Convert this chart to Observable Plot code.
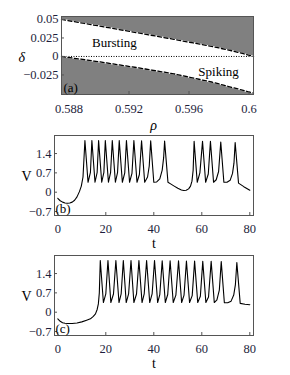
<!DOCTYPE html>
<html><head><meta charset="utf-8">
<script src="https://cdn.jsdelivr.net/npm/d3@7"></script>
<script src="https://cdn.jsdelivr.net/npm/@observablehq/plot@0.6"></script>
<style>
body{margin:0;background:#fff;}
#chart{position:relative;width:290px;height:375px;overflow:hidden;background:#fff;}
#chart svg{position:absolute;left:0;overflow:visible;}
#chart svg, #chart svg text{font-family:"Liberation Serif","Times New Roman",serif !important;}
</style></head><body><div id="chart"></div>
<script>
// ---------- panel (a) data ----------
const rho    = [0.5875, 0.5900, 0.5925, 0.5950, 0.5975, 0.5990, 0.6003];
const upper  = [0.0500, 0.0412, 0.0322, 0.0231, 0.0137, 0.0070, 0.0000];
const lower  = [0.0000, -0.0072, -0.0150, -0.0235, -0.0345, -0.0425, -0.0495];
const rhoDomain   = [0.5875, 0.6003];
const deltaDomain = [-0.0514, 0.054];
const rhoTicks = [0.588, 0.592, 0.596, 0.6];
const rhoTickLabels = ["0.588", "0.592", "0.596", "0.6"];
const deltaTicks = [0.05, 0.025, 0, -0.025];
const deltaTickLabels = ["0.05", "0.025", "0", "\u22120.025"];
const regionLabels = ["Bursting", "Spiking"];
const regionRho = [0.59103, 0.59797];
const regionDelta = [0.0179, -0.0212];

// ---------- panel (b) data ----------
const tB = [0,1,2,3,4,5,6,7,8,9,9.8,10.5,11.3,
  12.6,13.6,14.2, 15.5,16.4,17.0, 18.3,19.2,19.8, 21.1,22.0,22.7, 24.0,24.9,25.6,
  26.9,27.9,28.6, 29.9,30.9,31.7, 33.0,34.0,34.9, 36.2,37.4,38.1,38.7,
  40.0,41.2,42.5,43.5,44.1,44.5,
  45.9,47,48.5,50,51.5,52.5,53.5,54.5,55.3,55.9,56.4,56.8,
  58.1,59.2,60.3, 61.6,62.7,63.6, 64.9,66.0,67.0,67.9,
  69.2,70.5,71.8,72.8,73.4,73.9, 75.3,77.5,80];
const vB = [-0.22,-0.31,-0.36,-0.39,-0.40,-0.39,-0.36,-0.29,-0.17,0.02,0.22,0.55,1.87,
  0.36,0.72,1.87, 0.36,0.72,1.87, 0.36,0.72,1.87, 0.36,0.72,1.87, 0.36,0.72,1.87,
  0.36,0.70,1.87, 0.36,0.68,1.87, 0.36,0.64,1.86, 0.36,0.55,0.95,1.86,
  0.36,0.37,0.48,0.80,1.25,1.85,
  0.36,0.30,0.22,0.14,0.08,0.06,0.07,0.12,0.22,0.40,0.80,1.84,
  0.36,0.70,1.84, 0.36,0.66,1.84, 0.36,0.45,0.75,1.82,
  0.36,0.36,0.43,0.68,1.05,1.80, 0.33,0.20,0.07];

// ---------- panel (c) data ----------
const tC = [0,1,2,3,4,6,8,10,12,13.6,14.8,15.7,16.4,16.9,17.3,17.7,
  19.0,20.0,20.9, 22.1,23.2,24.2, 25.5,26.4,27.3, 28.5,29.5,30.5, 31.7,32.8,33.8,
  35.1,36.0,37.0, 38.3,39.3,40.3, 41.6,42.5,43.5, 44.8,45.8,46.8, 48.1,49.2,50.3,
  51.6,52.6,53.6, 54.9,56.0,57.0, 58.3,59.4,60.4, 61.7,62.8,63.9,
  65.2,66.3,67.3,68.1, 69.4,70.8,72.2,73.3,74.0,74.6, 76.0,78,80];
const vC = [-0.24,-0.33,-0.38,-0.40,-0.41,-0.41,-0.39,-0.35,-0.29,-0.24,-0.15,-0.06,0.10,0.30,0.70,1.87,
  0.35,0.66,1.87, 0.35,0.66,1.87, 0.35,0.66,1.87, 0.35,0.66,1.87, 0.35,0.66,1.87,
  0.35,0.66,1.87, 0.35,0.66,1.87, 0.35,0.64,1.86, 0.35,0.64,1.86, 0.35,0.62,1.86,
  0.35,0.62,1.85, 0.35,0.60,1.85, 0.35,0.58,1.84, 0.35,0.55,1.84,
  0.35,0.45,0.80,1.83, 0.34,0.34,0.40,0.62,1.00,1.80, 0.32,0.29,0.27];

const tDomain = [-1.375, 81.54];
const vDomain = [-0.844, 2.053];
const tTicks = [0, 20, 40, 60, 80];
const tTickLabels = ["0", "20", "40", "60", "80"];
const vTicks = [1.4, 0.7, 0, -0.7];
const vTickLabels = ["1.4", "0.7", "0", "\u22120.7"];

// ---------- drawing ----------
const FONT = "Liberation Serif";
const TICKCOL = "#1e1e3c";
const GRAY = "#808080";
const FRAME = "#555";
const chart = document.getElementById("chart");

function place(svg, top) { svg.style.top = top + "px"; chart.appendChild(svg); }

// panel (a)
const aData = rho.map((r, i) => ({rho: r, up: upper[i], lo: lower[i]}));
const annA = regionLabels.map((l, i) => ({label: l, rho: regionRho[i], delta: regionDelta[i]}));
const aW = 192, aH = 78;
const plotA = Plot.plot({
  width: 290, height: 135, marginLeft: 61, marginRight: 37, marginTop: 16, marginBottom: 41,
  x: {domain: rhoDomain, axis: null},
  y: {domain: deltaDomain, axis: null},
  style: {background: "transparent", fontFamily: FONT, overflow: "visible"},
  marks: [
    Plot.areaY(aData, {x: "rho", y1: "up", y2: () => deltaDomain[1], fill: GRAY}),
    Plot.areaY(aData, {x: "rho", y1: () => deltaDomain[0], y2: "lo", fill: GRAY}),
    Plot.ruleY([0], {stroke: "#000", strokeWidth: 1, strokeDasharray: "1,1.5"}),
    Plot.line(aData, {x: "rho", y: "up", stroke: "#fff", strokeWidth: 1.3}),
    Plot.line(aData, {x: "rho", y: "up", stroke: "#000", strokeWidth: 1.3, strokeDasharray: "4,2.5"}),
    Plot.line(aData, {x: "rho", y: "lo", stroke: "#fff", strokeWidth: 1.3}),
    Plot.line(aData, {x: "rho", y: "lo", stroke: "#000", strokeWidth: 1.3, strokeDasharray: "4,2.5"}),
    Plot.frame({stroke: FRAME}),
    Plot.tickX(rhoTicks, {x: d => d, insetTop: aH - 3, stroke: FRAME}),
    Plot.tickY(deltaTicks, {y: d => d, insetRight: aW - 3, stroke: FRAME}),
    Plot.text(rhoTicks, {x: d => d, text: (d, i) => rhoTickLabels[i], frameAnchor: "bottom", dy: 14, lineAnchor: "middle", fill: TICKCOL, fontSize: 12.5, fontFamily: FONT}),
    Plot.text(deltaTicks, {y: d => d, text: (d, i) => deltaTickLabels[i], frameAnchor: "left", dx: -3, textAnchor: "end", fill: TICKCOL, fontSize: 12.5, fontFamily: FONT}),
    Plot.text(annA, {x: "rho", y: "delta", text: "label", fontSize: 13, fill: "#000", fontFamily: FONT}),
    Plot.text(["(a)"], {text: d => d, frameAnchor: "bottom-left", dx: 2, dy: -7, textAnchor: "start", lineAnchor: "middle", fontSize: 13, fill: "#000", fontFamily: FONT}),
    Plot.text(["\u03c1"], {text: d => d, frameAnchor: "bottom", dx: -4, dy: 31, lineAnchor: "middle", fontStyle: "italic", fontSize: 14, fill: "#000", fontFamily: FONT}),
    Plot.text(["\u03b4"], {text: d => d, frameAnchor: "left", dx: -43, dy: 2, lineAnchor: "middle", fontStyle: "italic", fontSize: 14, fill: "#000", fontFamily: FONT})
  ]
});
place(plotA, 0);

// panels (b), (c)
function tracePanel(tArr, vArr, tag) {
  const data = tArr.map((t, i) => ({t, v: vArr[i]}));
  const fW = 199, fH = 80;
  return Plot.plot({
    width: 290, height: 125, marginLeft: 54, marginRight: 37, marginTop: 10, marginBottom: 35,
    x: {domain: tDomain, axis: null},
    y: {domain: vDomain, axis: null},
    style: {background: "transparent", fontFamily: FONT, overflow: "visible"},
    marks: [
      Plot.line(data, {x: "t", y: "v", stroke: "#000", strokeWidth: 1.1}),
      Plot.frame({stroke: FRAME}),
      Plot.tickX(tTicks, {x: d => d, insetTop: fH - 3, stroke: FRAME}),
      Plot.tickY(vTicks, {y: d => d, insetRight: fW - 3, stroke: FRAME}),
      Plot.text(tTicks, {x: d => d, text: (d, i) => tTickLabels[i], frameAnchor: "bottom", dy: 13.3, lineAnchor: "middle", fill: TICKCOL, fontSize: 12.5, fontFamily: FONT}),
      Plot.text(vTicks, {y: d => d, text: (d, i) => vTickLabels[i], frameAnchor: "left", dx: -3, textAnchor: "end", fill: TICKCOL, fontSize: 12.5, fontFamily: FONT}),
      Plot.text([tag], {text: d => d, frameAnchor: "bottom-left", dx: 1, dy: -6.5, textAnchor: "start", lineAnchor: "middle", fontSize: 13, fill: "#000", fontFamily: FONT}),
      Plot.text(["t"], {text: d => d, frameAnchor: "bottom", dx: 0, dy: 28, lineAnchor: "middle", fontSize: 14, fill: "#000", fontFamily: FONT}),
      Plot.text(["V"], {text: d => d, frameAnchor: "left", dx: -33, dy: 1, lineAnchor: "middle", fontSize: 14, fill: "#000", fontFamily: FONT})
    ]
  });
}
place(tracePanel(tB, vB, "(b)"), 125);
place(tracePanel(tC, vC, "(c)"), 245);
</script></body></html>
